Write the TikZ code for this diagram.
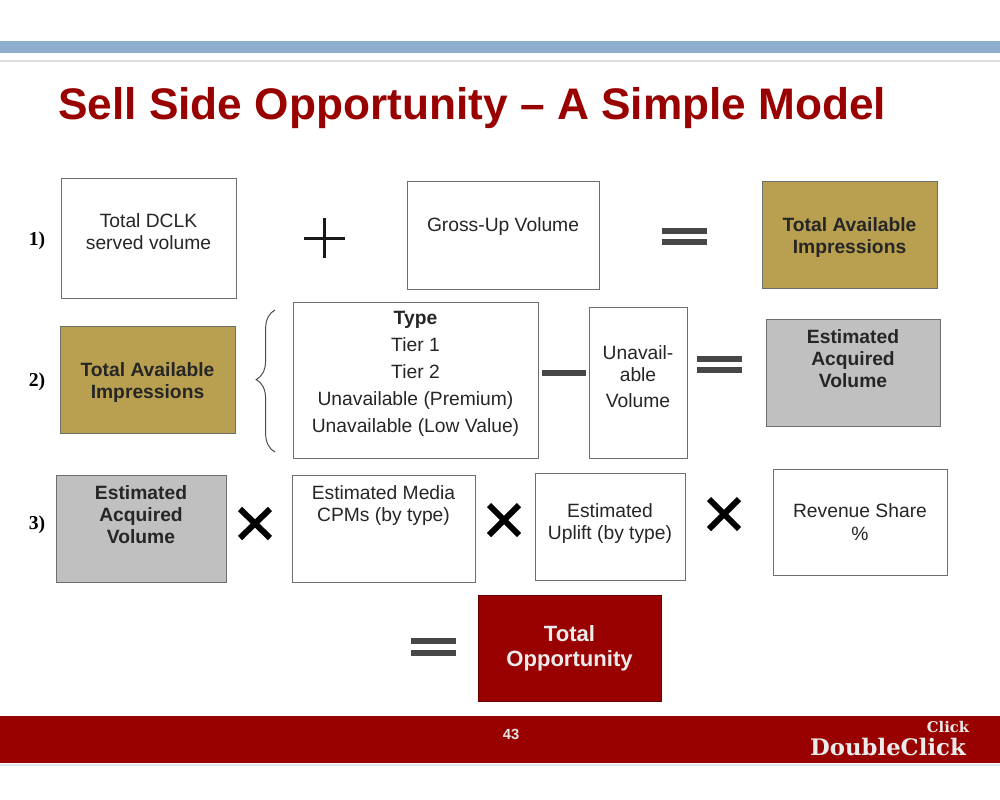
\documentclass[tikz,border=0pt]{standalone}
\usepackage{fontspec}
\setmainfont{Liberation Sans}
\newfontfamily\labelfont{Liberation Serif}
\newfontfamily\logofont{DejaVu Serif}
\usepackage{xcolor}
\usetikzlibrary{decorations.pathreplacing}
\definecolor{slidered}{HTML}{990000}
\definecolor{slidegold}{HTML}{B9A051}
\definecolor{slidegray}{HTML}{C0C0C0}
\definecolor{slideblue}{HTML}{8FADCC}
\definecolor{boxedge}{HTML}{6E6E6E}

\begin{document}
\begin{tikzpicture}[x=0.25mm,y=-0.25mm,every node/.style={font=\fontsize{13.7pt}{15.8pt}\selectfont},
  box/.style={draw=boxedge, line width=0.7pt, align=center, fill=white, text=black!85, inner ysep=0pt},
  goldbox/.style={box, fill=slidegold, font=\fontsize{13.7pt}{15.8pt}\selectfont\bfseries},
  graybox/.style={box, fill=slidegray, font=\fontsize{13.7pt}{15.8pt}\selectfont\bfseries},
  redbox/.style={box, draw=slidered!70!black, fill=slidered, text=white!92!black, font=\fontsize{15.7pt}{18pt}\selectfont\bfseries},
  rowlabel/.style={font=\fontsize{14pt}{16pt}\selectfont\labelfont\bfseries},
  opbar/.style={line width=1.4mm, draw=black!72},
  opthin/.style={line width=0.75mm, draw=black!90},
  opcross/.style={line width=1.5mm, draw=black}]
\useasboundingbox (0,0) rectangle (1000,800);
\fill[white] (0,0) rectangle (1000,800);
% bars
\fill[slideblue] (0,41) rectangle (1000,53);
\fill[black!13] (0,60) rectangle (1000,62);
\fill[slidered] (0,716) rectangle (1000,763);
\fill[slideblue!30] (0,764) rectangle (1000,766);
\node[anchor=west, text=slidered, inner sep=0pt, font=\fontsize{31.45pt}{34pt}\selectfont\bfseries] (title) at (58,108) {Sell Side Opportunity -- A Simple Model};
% row 1
\node[rowlabel] (one) at (37,241) {1)};
\node[box, minimum width=43.75mm, minimum height=30mm] (dclk) at (148.5,238) {Total DCLK\\served volume\\[-2.5mm]};
\draw[opthin] (304,238) -- (345,238);
\draw[opthin] (324,218) -- (324,258);
\node[box, minimum width=48mm, minimum height=27mm] (gross) at (503,235) {Gross-Up Volume\\[-0.5mm]};
\draw[opbar] (662,231) -- (707,231);
\draw[opbar] (662,242) -- (707,242);
\node[goldbox, minimum width=43.75mm, minimum height=26.75mm] (avail) at (849.5,234.5) {\rule{0pt}{4.9mm}Total Available\\Impressions};
% row 2
\node[rowlabel] (two) at (37,382) {2)};
\node[goldbox, minimum width=43.75mm, minimum height=26.75mm] (availb) at (147.5,379.5) {\rule{0pt}{4.9mm}Total Available\\Impressions};
\draw[decorate, decoration={brace, amplitude=4.7mm, aspect=0.51}, draw=black!70, line width=0.7pt] (275,452) -- (275,310);
\node[box, minimum width=61.25mm, minimum height=39mm] (type) at (415.5,380) {\textbf{Type}\\[1.25mm]Tier 1\\[1.25mm]Tier 2\\[1.25mm]Unavailable (Premium)\\[1.25mm]Unavailable (Low Value)\\[-1.5mm]};
\draw[opbar] (542,373) -- (586,373);
\node[box, minimum width=24.5mm, minimum height=37.75mm] (unavail) at (638,382.5) {Unavail-\\able\\[1mm]Volume\\[-2.5mm]};
\draw[opbar] (697,359) -- (742,359);
\draw[opbar] (697,370) -- (742,370);
\node[graybox, minimum width=43.5mm, minimum height=26.75mm] (acquired) at (853,372.5) {Estimated\\Acquired\\Volume\\[1.5mm]};
% row 3
\node[rowlabel] (three) at (37,525) {3)};
\node[graybox, minimum width=42.5mm, minimum height=26.75mm] (acquiredb) at (141,528.5) {Estimated\\Acquired\\Volume\\[1.5mm]};
\draw[opcross] (240,509) -- (270,538);
\draw[opcross] (270,509) -- (240,538);
\node[box, minimum width=45.75mm, minimum height=26.75mm] (media) at (383.5,528.5) {Estimated Media\\CPMs (by type)\\[7mm]};
\draw[opcross] (489,505) -- (519,535);
\draw[opcross] (519,505) -- (489,535);
\node[box, minimum width=37.5mm, minimum height=26.75mm] (uplift) at (610,526.5) {Estimated\\Uplift (by type)\\[-3mm]};
\draw[opcross] (709,499) -- (739,529);
\draw[opcross] (739,499) -- (709,529);
\node[box, minimum width=43.5mm, minimum height=26.5mm] (revenue) at (860,522) {Revenue Share\\\%};
% total
\draw[opbar] (411,641) -- (456,641);
\draw[opbar] (411,653) -- (456,653);
\node[redbox, minimum width=45.75mm, minimum height=26.5mm] (total) at (569.5,648) {Total\\Opportunity\\[-5.25mm]};
% footer
\node[text=white!90!black, font=\fontsize{10.5pt}{12pt}\selectfont\bfseries] (page) at (511,734) {43};
\node[text=white!92!black, inner sep=0pt, font=\fontsize{16.2pt}{18pt}\selectfont\logofont\bfseries] (logo) at (888,747) {DoubleClick};
\node[text=white!92!black, inner sep=0pt, font=\fontsize{10.5pt}{12pt}\selectfont\logofont\bfseries] (click) at (948,727) {Click};
\end{tikzpicture}
\end{document}
